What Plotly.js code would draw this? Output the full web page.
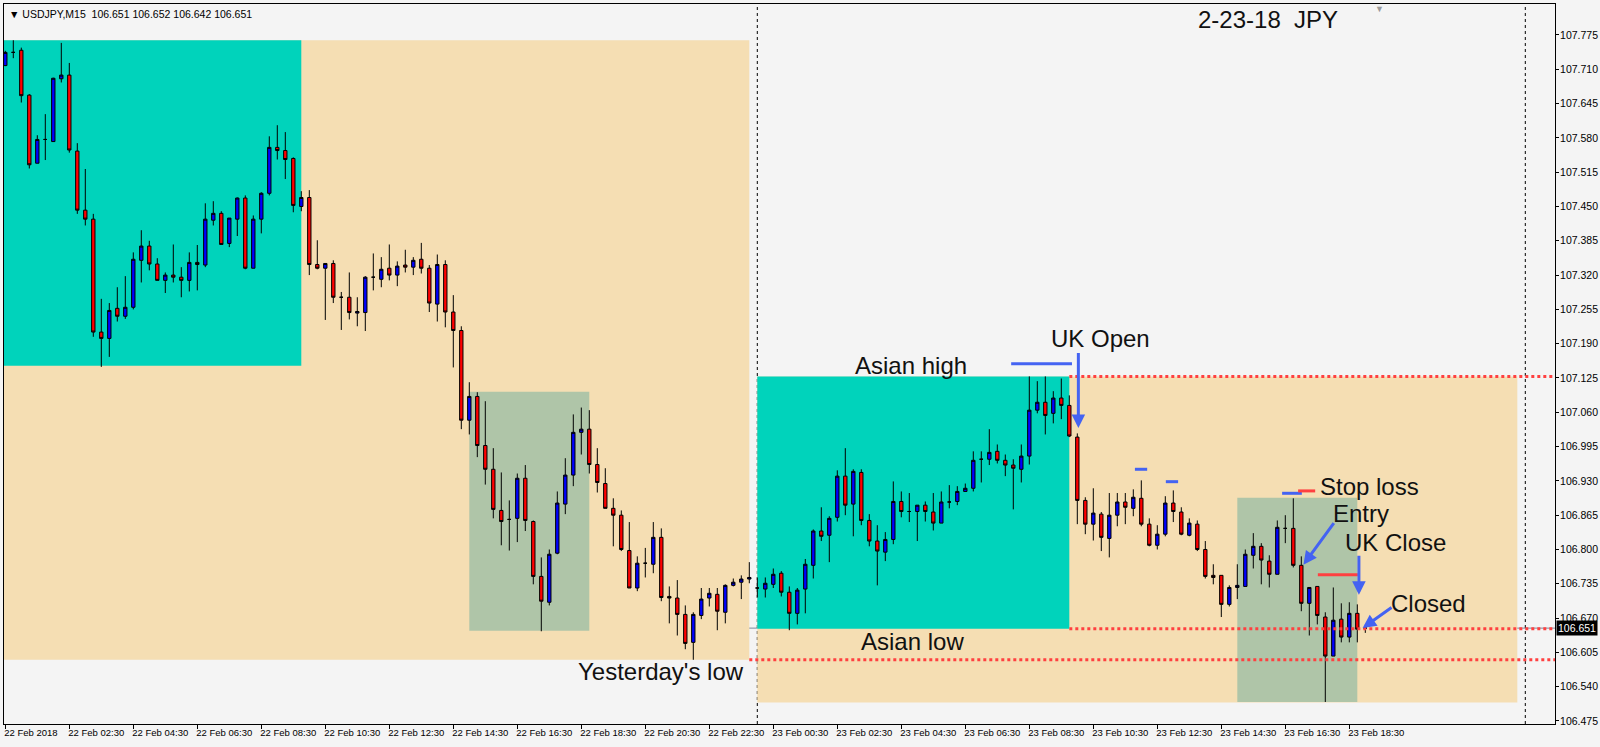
<!DOCTYPE html>
<html><head><meta charset="utf-8">
<script src="https://cdn.plot.ly/plotly-3.0.1.min.js"></script>
<style>html,body{margin:0;padding:0;background:#f4f4f4;overflow:hidden}#chart{width:1600px;height:747px}</style>
</head><body><div id="chart"></div>
<script>
// ---------- data (USDJPY M15, bars from 22 Feb 2018 00:30) ----------
const symbol = 'USDJPY,M15';
const firstBarUTC = Date.UTC(2018, 1, 22, 0, 30);
const barMinutes = 15;

const opens = [107.717,107.742,107.746,107.661,107.532,107.577,107.573,107.692,107.699,107.555,
107.443,107.426,107.212,107.200,107.257,107.242,107.259,107.348,107.375,107.341,
107.310,107.320,107.316,107.310,107.344,107.339,107.424,107.437,107.380,107.426,
107.466,107.333,107.426,107.475,107.562,107.556,107.541,107.450,107.467,107.340,
107.333,107.342,107.278,107.278,107.248,107.249,107.316,107.312,107.333,107.320,
107.339,107.335,107.350,107.333,107.265,107.340,107.250,107.215,107.045,107.090,
106.997,106.952,106.874,106.857,106.859,106.935,106.853,106.749,106.700,106.793,
106.886,106.941,107.022,107.028,106.961,106.925,106.878,106.865,106.798,106.727,
106.774,106.772,106.823,106.711,106.708,106.677,106.624,106.675,106.708,106.715,
106.681,106.732,106.738,106.744,106.727,106.725,106.734,106.755,106.719,106.679,
106.725,106.770,106.835,106.827,106.861,106.939,106.886,106.946,106.855,106.816,
106.795,106.819,106.891,106.872,106.872,106.884,106.871,106.850,106.890,106.891,
106.910,106.916,106.971,106.971,106.986,106.969,106.960,106.952,106.977,107.064,
107.079,107.058,107.087,107.073,107.013,106.893,106.848,106.867,106.821,106.865,
106.890,106.878,106.897,106.848,106.808,106.829,106.888,106.871,106.827,106.848,
106.800,106.751,106.751,106.696,106.728,106.730,106.789,106.806,106.778,106.753,
106.840,106.840,106.770,106.698,106.730,106.672,106.598,106.668,106.634,106.679,
106.651];
const highs = [107.745,107.765,107.751,107.663,107.585,107.625,107.694,107.760,107.722,107.570,
107.521,107.436,107.275,107.267,107.297,107.318,107.363,107.405,107.385,107.352,
107.325,107.378,107.335,107.363,107.377,107.456,107.460,107.441,107.428,107.467,
107.471,107.433,107.477,107.583,107.604,107.591,107.543,107.479,107.481,107.386,
107.342,107.348,107.288,107.325,107.278,107.318,107.361,107.354,107.378,107.346,
107.368,107.354,107.381,107.339,107.359,107.348,107.282,107.223,107.117,107.098,
107.081,106.992,106.946,106.893,106.944,106.960,106.855,106.785,106.800,106.910,
106.973,107.056,107.069,107.064,106.992,106.954,106.897,106.874,106.852,106.787,
106.803,106.852,106.840,106.730,106.742,106.694,106.681,106.727,106.727,106.727,
106.734,106.745,106.751,106.776,106.747,106.747,106.764,106.759,106.730,106.727,
106.782,106.838,106.880,106.863,106.950,106.992,106.952,106.952,106.867,106.846,
106.833,106.929,106.910,106.907,106.884,106.891,106.907,106.910,106.922,106.920,
106.925,106.986,106.986,107.028,106.999,106.980,106.971,106.999,107.128,107.119,
107.128,107.100,107.124,107.092,107.020,106.899,106.916,106.871,106.907,106.907,
106.907,106.914,106.931,106.859,106.846,106.901,106.912,106.880,106.859,106.855,
106.816,106.772,106.751,106.732,106.772,106.800,106.831,106.812,106.789,106.855,
106.865,106.897,106.787,106.728,106.730,106.681,106.728,106.698,106.700,106.696,
106.652];
const lows = [107.716,107.731,107.647,107.522,107.532,107.538,107.573,107.685,107.552,107.436,
107.414,107.203,107.146,107.165,107.232,107.237,107.255,107.306,107.329,107.310,
107.286,107.306,107.278,107.289,107.291,107.335,107.414,107.378,107.373,107.394,
107.331,107.333,107.399,107.471,107.539,107.502,107.439,107.441,107.320,107.331,
107.235,107.267,107.216,107.236,107.223,107.214,107.291,107.297,107.310,107.299,
107.325,107.320,107.323,107.250,107.232,107.221,107.145,107.028,107.018,106.975,
106.923,106.859,106.808,106.798,106.814,106.835,106.734,106.645,106.694,106.791,
106.867,106.920,106.980,106.944,106.908,106.878,106.806,106.797,106.727,106.721,
106.747,106.755,106.702,106.660,106.637,106.611,106.591,106.668,106.692,106.647,
106.660,106.730,106.706,106.736,106.709,106.709,106.727,106.711,106.647,106.658,
106.679,106.745,106.816,106.776,106.853,106.865,106.825,106.846,106.806,106.732,
106.778,106.810,106.861,106.852,106.816,106.853,106.836,106.850,106.878,106.884,
106.910,106.910,106.927,106.960,106.963,106.939,106.876,106.927,106.961,107.058,
107.018,107.039,107.047,107.013,106.848,106.829,106.817,106.797,106.785,106.844,
106.848,106.863,106.844,106.806,106.800,106.825,106.852,106.827,106.825,106.797,
106.745,106.734,106.672,106.692,106.706,106.730,106.764,106.734,106.728,106.753,
106.812,106.766,106.683,106.637,106.658,106.511,106.598,106.624,106.624,106.624,
106.642];
const closes = [107.742,107.742,107.660,107.529,107.577,107.577,107.693,107.699,107.557,107.443,
107.426,107.212,107.200,107.253,107.242,107.259,107.350,107.375,107.341,107.310,
107.320,107.316,107.310,107.344,107.340,107.426,107.437,107.378,107.428,107.466,
107.333,107.426,107.475,107.562,107.556,107.539,107.452,107.467,107.340,107.333,
107.342,107.278,107.278,107.249,107.251,107.316,107.316,107.331,107.320,107.337,
107.335,107.348,107.333,107.267,107.340,107.250,107.215,107.045,107.090,106.997,
106.952,106.876,106.853,106.857,106.935,106.855,106.749,106.702,106.791,106.888,
106.941,107.022,107.028,106.961,106.927,106.878,106.865,106.800,106.727,106.774,
106.774,106.823,106.709,106.708,106.677,106.622,106.677,106.706,106.717,106.683,
106.732,106.738,106.744,106.747,106.727,106.736,106.753,106.719,106.679,106.723,
106.772,106.835,106.825,106.859,106.939,106.884,106.948,106.855,106.816,106.797,
106.819,106.891,106.872,106.872,106.884,106.872,106.850,106.890,106.890,106.910,
106.916,106.969,106.971,106.984,106.969,106.960,106.954,106.977,107.064,107.079,
107.054,107.087,107.073,107.015,106.893,106.848,106.869,106.823,106.865,106.890,
106.880,106.899,106.848,106.808,106.829,106.888,106.872,106.829,106.850,106.800,
106.749,106.747,106.696,106.728,106.732,106.791,106.806,106.780,106.753,106.842,
106.840,106.770,106.698,106.728,106.675,106.598,106.666,106.634,106.679,106.649,
106.651];

const xTickTimes = ['2018-02-22 00:30','2018-02-22 02:30','2018-02-22 04:30','2018-02-22 06:30','2018-02-22 08:30',
'2018-02-22 10:30','2018-02-22 12:30','2018-02-22 14:30','2018-02-22 16:30','2018-02-22 18:30','2018-02-22 20:30',
'2018-02-22 22:30','2018-02-23 00:30','2018-02-23 02:30','2018-02-23 04:30','2018-02-23 06:30','2018-02-23 08:30',
'2018-02-23 10:30','2018-02-23 12:30','2018-02-23 14:30','2018-02-23 16:30','2018-02-23 18:30'];
const xTickLabels = ['22 Feb 2018','22 Feb 02:30','22 Feb 04:30','22 Feb 06:30','22 Feb 08:30',
'22 Feb 10:30','22 Feb 12:30','22 Feb 14:30','22 Feb 16:30','22 Feb 18:30','22 Feb 20:30',
'22 Feb 22:30','23 Feb 00:30','23 Feb 02:30','23 Feb 04:30','23 Feb 06:30','23 Feb 08:30',
'23 Feb 10:30','23 Feb 12:30','23 Feb 14:30','23 Feb 16:30','23 Feb 18:30'];

// session levels
const day22Range  = [106.591, 107.765];
const asia22Range = [107.148, 107.765];
const uk22Range   = [106.646, 107.099];
const day23Range  = [106.510, 107.128];
const asia23Range = [106.650, 107.128];
const uk23Range   = [106.511, 106.898];
const asianHigh = 107.128, asianLow = 106.650, yesterdayLow = 106.591;
const lastPrice = 106.651;
const header = [106.651, 106.652, 106.642, 106.651];

// ---------- build ----------
function fmt(ms){ return new Date(ms).toISOString().slice(0,19).replace('T',' '); }
const times = opens.map((_, i) => fmt(firstBarUTC + i*barMinutes*60000));

const candle = {
  type:'candlestick', x: times, open: opens, high: highs, low: lows, close: closes,
  increasing:{line:{color:'#000000', width:1}, fillcolor:'#0000ff'},
  decreasing:{line:{color:'#000000', width:1}, fillcolor:'#ff0000'},
  whiskerwidth:0, hoverinfo:'skip', showlegend:false
};

const PEACH='#f5deb3', TEAL='#00d3bb', SAGE='#afc5a8', RED='#ff4040', BLUE='#4463f2';
function rect(x0,x1,r,c){ return {type:'rect',xref:'x',yref:'y',x0:x0,x1:x1,y0:r[0],y1:r[1],fillcolor:c,line:{width:0},layer:'below'}; }
function hline(x0,x1,y,c,w,dash,layer){ return {type:'line',xref:'x',yref:'y',x0:x0,x1:x1,y0:y,y1:y,line:{color:c,width:w,dash:dash||'solid'},layer:layer||'above'}; }

const shapes = [
  rect('2018-02-21 23:00','2018-02-22 23:45', day22Range, PEACH),
  rect('2018-02-21 23:00','2018-02-22 09:45', asia22Range, TEAL),
  rect('2018-02-22 15:00','2018-02-22 18:45', uk22Range, SAGE),
  rect('2018-02-23 00:00','2018-02-23 23:45', day23Range, PEACH),
  rect('2018-02-23 00:00','2018-02-23 09:45', asia23Range, TEAL),
  rect('2018-02-23 15:00','2018-02-23 18:45', uk23Range, SAGE),
  {type:'line',xref:'paper',yref:'y',x0:0,x1:1,y0:lastPrice,y1:lastPrice,line:{color:'#7b8a9c',width:1},layer:'below'},
  {type:'line',xref:'x',yref:'paper',x0:'2018-02-23 00:00',x1:'2018-02-23 00:00',y0:0,y1:1,line:{color:'#000',width:1,dash:'3px,3px'},layer:'below'},
  {type:'line',xref:'x',yref:'paper',x0:'2018-02-24 00:00',x1:'2018-02-24 00:00',y0:0,y1:1,line:{color:'#000',width:1,dash:'3px,3px'},layer:'below'},
  hline('2018-02-23 09:45','2018-02-24 03:00', asianHigh, RED, 3, '3px,3px'),
  hline('2018-02-23 09:45','2018-02-24 03:00', asianLow, RED, 3, '3px,3px'),
  hline('2018-02-22 23:45','2018-02-24 03:00', yesterdayLow, RED, 3, '3px,3px'),
  hline('2018-02-23 07:56','2018-02-23 09:50', 107.152, BLUE, 3),
  hline('2018-02-23 11:48','2018-02-23 12:11', 106.952, BLUE, 3),
  hline('2018-02-23 12:46','2018-02-23 13:09', 106.9285, BLUE, 3),
  hline('2018-02-23 16:24','2018-02-23 17:01', 106.9065, BLUE, 3),
  hline('2018-02-23 16:54','2018-02-23 17:26', 106.911, RED, 3),
  hline('2018-02-23 17:31','2018-02-23 18:46', 106.752, RED, 3)
];

const TXT = {family:'Liberation Sans, Arial, sans-serif', size:24, color:'#111'};
function note(text,x,y){ return {text:text,xref:'x',yref:'y',x:x,y:y,showarrow:false,font:TXT,xanchor:'center',yanchor:'middle'}; }
function arrow(hx,hy,tx,ty){ return {text:'',xref:'x',yref:'y',x:hx,y:hy,axref:'x',ayref:'y',ax:tx,ay:ty,showarrow:true,arrowhead:2,arrowsize:0.9,arrowwidth:3,arrowcolor:BLUE,standoff:0,startstandoff:0}; }

const annotations = [
  note('2-23-18\u00a0\u00a0JPY','2018-02-23 15:58',107.805),
  note('UK Open','2018-02-23 10:44',107.199),
  note('Asian high','2018-02-23 04:48',107.148),
  note('Asian low','2018-02-23 04:51',106.625),
  note("Yesterday's low",'2018-02-22 21:00',106.568),
  note('Stop loss','2018-02-23 19:07',106.920),
  note('Entry','2018-02-23 18:52',106.869),
  note('UK Close','2018-02-23 19:57',106.814),
  note('Closed','2018-02-23 20:59',106.697),
  arrow('2018-02-23 10:02',107.030,'2018-02-23 10:02',107.175),
  arrow('2018-02-23 17:04',106.771,'2018-02-23 18:03',106.853),
  arrow('2018-02-23 18:48',106.714,'2018-02-23 18:48',106.791),
  arrow('2018-02-23 18:55',106.651,'2018-02-23 19:52',106.692),
  {text:'\u25BC '+symbol+'\u00a0\u00a0'+header.map(v=>v.toFixed(3)).join(' '),xref:'paper',yref:'paper',x:0,y:1,xanchor:'left',yanchor:'top',xshift:3,yshift:-2,showarrow:false,font:{family:'Liberation Sans, Arial, sans-serif',size:10.5,color:'#000'}},
  {text:lastPrice.toFixed(3),xref:'paper',yref:'y',x:1,y:lastPrice,xanchor:'left',yanchor:'middle',xshift:1,showarrow:false,bgcolor:'#000',borderpad:1,font:{family:'Liberation Sans, Arial, sans-serif',size:10.5,color:'#fff'}},
  {text:'\u25BC',xref:'paper',yref:'paper',x:0.887,y:1,xanchor:'center',yanchor:'top',yshift:4,showarrow:false,font:{size:9,color:'#9a9a9a'}}
];

const layout = {
  width:1600, height:747,
  margin:{l:4, r:45, t:4, b:23, pad:0},
  paper_bgcolor:'#f4f4f4', plot_bgcolor:'#f4f4f4',
  showlegend:false, hovermode:false, boxgap:0.4,
  xaxis:{type:'date', range:['2018-02-22 00:27:34','2018-02-24 00:55:40'], rangeslider:{visible:false},
    showgrid:false, zeroline:false, showline:true, linecolor:'#000', linewidth:1, mirror:true,
    ticks:'outside', ticklen:4, tickcolor:'#000', tickmode:'array', tickvals:xTickTimes, ticktext:xTickLabels,
    tickangle:0, ticklabelposition:'outside right', ticklabelshift:-2,
    tickfont:{family:'Liberation Sans, Arial, sans-serif', size:9.5, color:'#000'}, fixedrange:true},
  yaxis:{side:'right', range:[106.4693,107.8337], showgrid:false, zeroline:false, showline:true, linecolor:'#000', linewidth:1, mirror:true,
    ticks:'outside', ticklen:3, tickcolor:'#000', tick0:106.475, dtick:0.065, tickformat:'.3f', ticklabelstandoff:-1,
    tickfont:{family:'Liberation Sans, Arial, sans-serif', size:10.5, color:'#000'}, fixedrange:true},
  shapes:shapes, annotations:annotations
};

Plotly.newPlot('chart', [candle], layout, {staticPlot:true, displayModeBar:false});
</script>
</body></html>
